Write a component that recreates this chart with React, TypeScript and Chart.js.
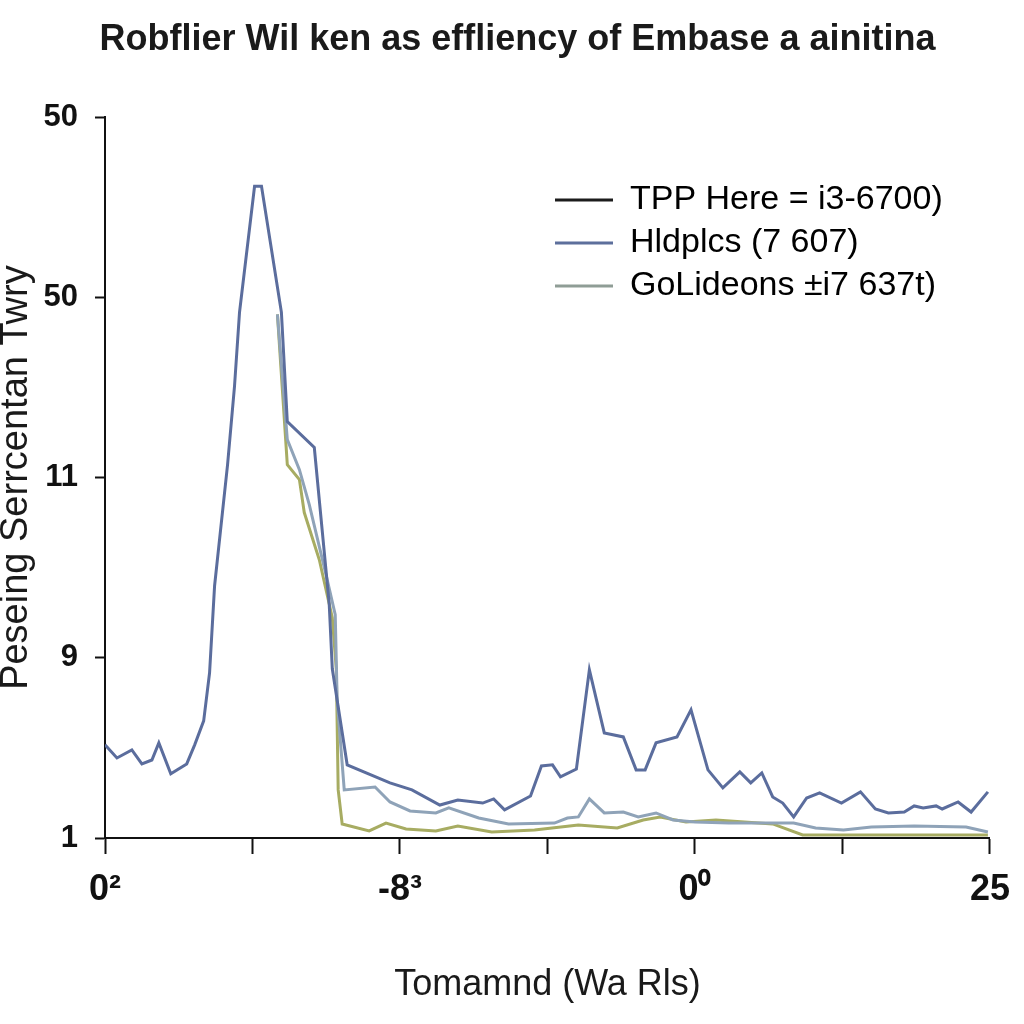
import React, { useEffect, useRef } from "react";
import { Chart, registerables } from "chart.js";

Chart.register(...registerables);

const titleText = "Robflier Wil ken as effliency of Embase a ainitina";
const xAxisTitle = "Tomamnd (Wa Rls)";
const yAxisTitle = "Peseing Serrcentan Twry";
const xTickLabels = ["0²", "", "-8³", "", "0⁰", "", "25"];
const yTickLabels = ["1", "9", "11", "50", "50"];
const seriesNames = ["TPP Here = i3-6700)", "Hldplcs (7 607)", "GoLideons ±i7 637t)"];
const legendColors = ["#1c1c1c", "#5d6f9c", "#8f9d96"];
const lineColors = ["#5b6d9d", "#8fa3b8", "#a7ac62"];

const darkX = [0, 0.81, 1.82, 2.5, 3.18, 3.65, 4.46, 5.54, 6.08, 6.69, 7.09, 7.43, 8.31, 8.78, 9.12, 10.14, 10.61, 11.96, 12.36, 14.19, 15.2, 15.41, 16.42, 19.32, 20.81, 22.7, 23.92, 25.61, 26.35, 27.09, 28.85, 29.59, 30.34, 30.88, 31.96, 32.84, 33.85, 35.14, 36.01, 36.62, 37.36, 38.78, 39.73, 40.88, 41.89, 43.04, 43.78, 44.53, 45.27, 45.95, 46.69, 47.57, 48.45, 49.93, 51.22, 52.23, 53.11, 54.19, 54.86, 55.47, 56.35, 56.76, 57.84, 58.72, 59.86];
const darkY = [0.517, 0.444, 0.489, 0.411, 0.433, 0.528, 0.356, 0.411, 0.517, 0.65, 0.917, 1.4, 2.072, 2.506, 2.917, 3.617, 3.617, 2.917, 2.311, 2.167, 1.3, 0.939, 0.406, 0.306, 0.267, 0.183, 0.211, 0.194, 0.217, 0.156, 0.233, 0.4, 0.406, 0.339, 0.383, 0.933, 0.583, 0.561, 0.378, 0.378, 0.528, 0.561, 0.711, 0.378, 0.278, 0.367, 0.306, 0.361, 0.228, 0.194, 0.117, 0.222, 0.25, 0.194, 0.256, 0.161, 0.139, 0.144, 0.178, 0.167, 0.178, 0.161, 0.2, 0.144, 0.256];

const lightX = [11.69, 12.36, 13.18, 13.85, 15.0, 15.61, 15.74, 16.22, 18.31, 19.32, 20.68, 22.43, 23.31, 25.34, 27.36, 30.47, 31.35, 32.09, 32.84, 33.85, 35.14, 36.15, 37.36, 38.51, 40.0, 42.3, 46.69, 48.18, 50.07, 51.96, 54.86, 58.38, 59.86];
const lightY = [2.906, 2.211, 2.044, 1.85, 1.456, 1.239, 0.767, 0.267, 0.283, 0.2, 0.15, 0.139, 0.167, 0.111, 0.078, 0.083, 0.111, 0.117, 0.217, 0.139, 0.144, 0.117, 0.139, 0.1, 0.089, 0.083, 0.083, 0.056, 0.044, 0.061, 0.067, 0.061, 0.033];

const oliveX = [11.69, 12.36, 13.18, 13.51, 14.53, 15.41, 15.68, 15.81, 16.08, 17.91, 19.05, 20.41, 22.43, 23.92, 26.22, 29.12, 32.09, 34.73, 36.49, 37.64, 39.39, 41.42, 45.27, 47.3, 49.66, 59.86];
const oliveY = [2.906, 2.072, 1.989, 1.806, 1.544, 1.222, 0.939, 0.267, 0.078, 0.039, 0.083, 0.05, 0.039, 0.067, 0.033, 0.044, 0.072, 0.056, 0.1, 0.117, 0.089, 0.1, 0.078, 0.017, 0.017, 0.017];

const FONT = "'Liberation Sans', Arial, Helvetica, sans-serif";

const zip = (xs: number[], ys: number[]) => xs.map((x, i) => ({ x, y: ys[i] }));

const legendPlacer = {
  id: "legendPlacer",
  afterLayout(chart: any) {
    const lg = chart.legend;
    if (!lg) return;
    const w = lg.width;
    const h = lg.height;
    lg.left = 546;
    lg.top = 174;
    lg.right = 546 + w;
    lg.bottom = 174 + h;
  },
};

export default function App() {
  const ref = useRef<HTMLCanvasElement | null>(null);

  useEffect(() => {
    if (!ref.current) return;
    Chart.defaults.font.family = FONT;
    const chart = new Chart(ref.current, {
      type: "line",
      data: {
        datasets: [
          { label: seriesNames[0], data: zip(darkX, darkY), borderColor: lineColors[0], borderWidth: 3, pointRadius: 0, tension: 0, fill: false },
          { label: seriesNames[1], data: zip(lightX, lightY), borderColor: lineColors[1], borderWidth: 3, pointRadius: 0, tension: 0, fill: false },
          { label: seriesNames[2], data: zip(oliveX, oliveY), borderColor: lineColors[2], borderWidth: 3, pointRadius: 0, tension: 0, fill: false },
        ],
      },
      options: {
        responsive: false,
        animation: false,
        layout: { padding: { left: 42, right: 31, top: 0, bottom: 0 } },
        plugins: {
          tooltip: { enabled: false },
          title: {
            display: true,
            text: titleText,
            color: "#1a1a1a",
            font: { size: 36, weight: "bold", family: FONT },
            padding: { top: 18, bottom: 56 },
          },
          legend: {
            display: true,
            position: "chartArea",
            align: "start",
            labels: {
              color: "#1a1a1a",
              font: { size: 34, family: FONT },
              boxWidth: 58,
              boxHeight: 3,
              padding: 9,
              generateLabels: () =>
                seriesNames.map((t, i) => ({
                  text: t,
                  fillStyle: legendColors[i],
                  strokeStyle: legendColors[i],
                  lineWidth: 0,
                  hidden: false,
                  datasetIndex: i,
                })),
            },
          },
        },
        scales: {
          x: {
            type: "linear",
            min: 0,
            max: 60,
            afterFit: (s: any) => {
              s.height = 186;
            },
            border: { display: true, color: "#111", width: 2 },
            grid: { display: true, drawOnChartArea: false, drawTicks: true, tickLength: 16, tickWidth: 2, tickColor: "#111" },
            ticks: {
              stepSize: 10,
              autoSkip: false,
              maxRotation: 0,
              padding: 14,
              color: "#111",
              font: { size: 36, weight: "bold", family: FONT },
              callback: (_v: any, i: number) => xTickLabels[i],
            },
            title: {
              display: true,
              text: xAxisTitle,
              color: "#1a1a1a",
              font: { size: 36, family: FONT },
              padding: { top: 17, bottom: 17 },
            },
          },
          y: {
            type: "linear",
            min: 0,
            max: 4,
            afterFit: (s: any) => {
              s.width = 63;
            },
            border: { display: true, color: "#111", width: 2 },
            grid: { display: true, drawOnChartArea: false, drawTicks: true, tickLength: 10, tickWidth: 2, tickColor: "#111" },
            ticks: {
              stepSize: 1,
              autoSkip: false,
              padding: 17,
              color: "#111",
              font: { size: 31, weight: "bold", family: FONT },
              callback: (_v: any, i: number) => yTickLabels[i],
            },
            title: {
              display: true,
              text: yAxisTitle,
              color: "#1a1a1a",
              font: { size: 38, family: FONT },
              padding: { top: -48, bottom: 0 },
            },
          },
        },
      },
      plugins: [legendPlacer],
    });
    return () => chart.destroy();
  }, []);

  return (
    <div style={{ position: "absolute", left: 0, top: 0, width: 1024, height: 1024, background: "#fff" }}>
      <canvas ref={ref} width={1024} height={1024} style={{ width: 1024, height: 1024 }} />
    </div>
  );
}
